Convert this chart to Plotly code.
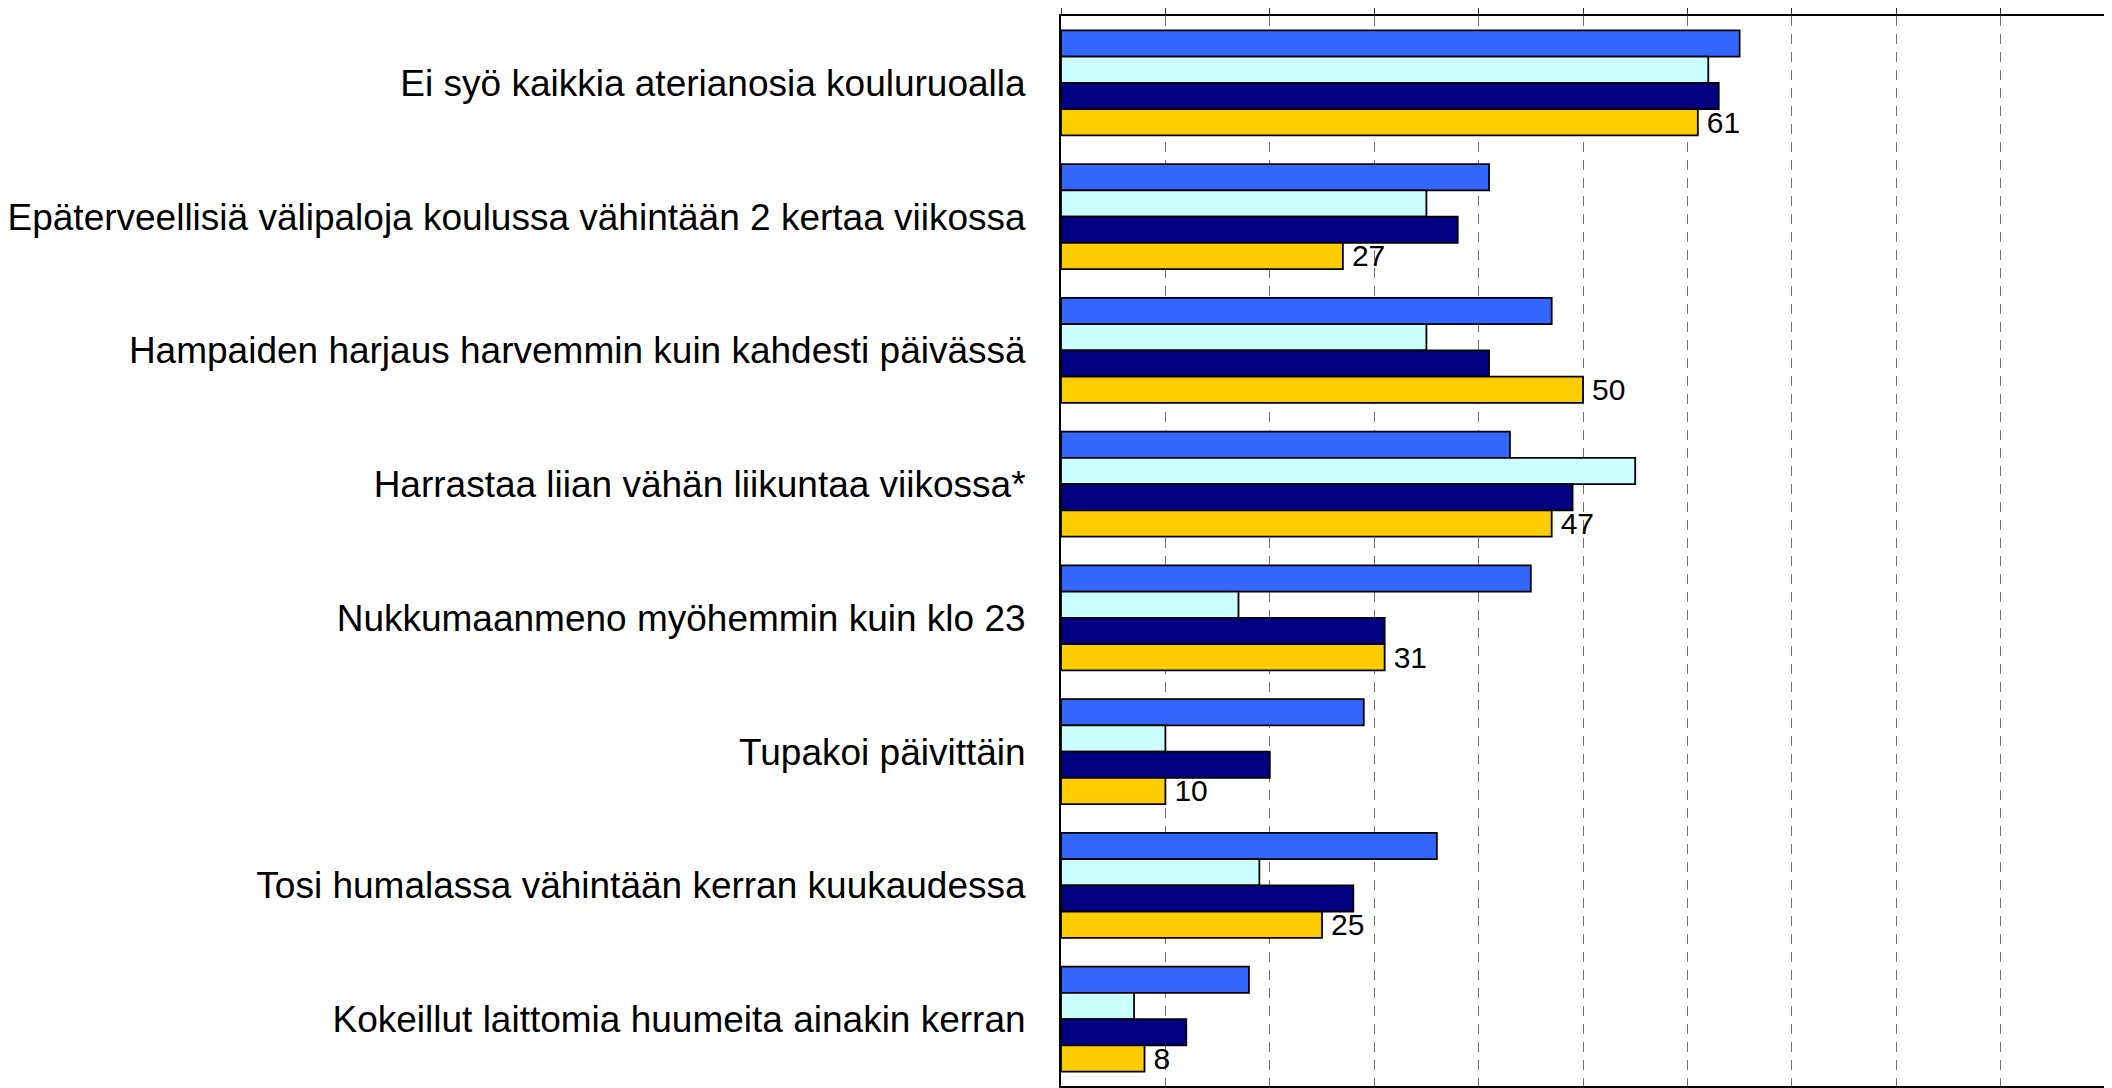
import plotly.graph_objects as go

categories = [
    "Ei syö kaikkia aterianosia kouluruoalla",
    "Epäterveellisiä välipaloja koulussa vähintään 2 kertaa viikossa",
    "Hampaiden harjaus harvemmin kuin kahdesti päivässä",
    "Harrastaa liian vähän liikuntaa viikossa*",
    "Nukkumaanmeno myöhemmin kuin klo 23",
    "Tupakoi päivittäin",
    "Tosi humalassa vähintään kerran kuukaudessa",
    "Kokeillut laittomia huumeita ainakin kerran",
]

series_names = ["Sarja 1", "Sarja 2", "Sarja 3", "Sarja 4"]
s1 = [65, 41, 47, 43, 45, 29, 36, 18]
s2 = [62, 35, 35, 55, 17, 10, 19, 7]
s3 = [63, 38, 41, 49, 31, 20, 28, 12]
s4 = [61, 27, 50, 47, 31, 10, 25, 8]
colors = ["#3366FF", "#CCFFFF", "#000080", "#FFCC00"]

FONT = "Liberation Sans, Arial, Helvetica, sans-serif"

fig = go.Figure()
for i, (name, vals) in enumerate(zip(series_names, [s1, s2, s3, s4])):
    kw = {}
    if i == 3:
        kw = dict(
            text=vals,
            texttemplate="\u2009%{x}",
            textposition="outside",
            textfont=dict(family=FONT, size=30, color="black"),
            constraintext="none",
            cliponaxis=False,
        )
    fig.add_trace(go.Bar(
        y=categories, x=vals, name=name, orientation="h",
        marker=dict(color=colors[i], line=dict(color="black", width=1.8)),
        showlegend=False, **kw,
    ))

# page body has an 8px margin; compensate so the plot area sits at x~1056, y~16
fig.update_layout(
    width=2104, height=1080,
    margin=dict(l=1045, r=7, t=8, b=0, pad=0),
    barmode="group", bargap=0.216, bargroupgap=0,
    plot_bgcolor="white", paper_bgcolor="white",
    font=dict(family=FONT, size=37, color="black"),
)
fig.update_xaxes(
    range=[0, 100], side="top", dtick=10, tick0=0,
    showticklabels=False, ticks="outside", ticklen=8, tickwidth=1.2, tickcolor="#333333",
    showgrid=True, gridcolor="#707070", gridwidth=1.2, griddash="10px,8px",
    showline=True, linecolor="black", linewidth=2, mirror=True, zeroline=False,
)
fig.update_yaxes(
    autorange="reversed", ticks="", ticklabelstandoff=26,
    showline=True, linecolor="black", linewidth=2, mirror=True,
    tickfont=dict(family=FONT, size=37, color="black"),
)

fig.write_html("out.html")
